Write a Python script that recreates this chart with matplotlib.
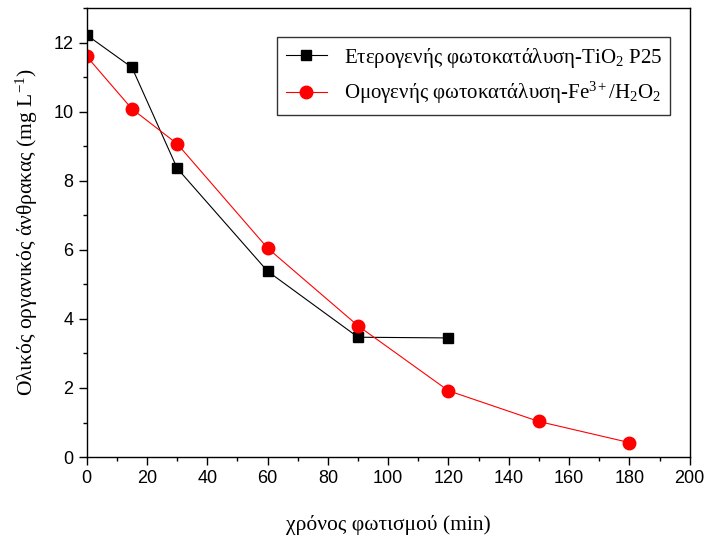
import matplotlib
matplotlib.use("Agg")
import matplotlib.pyplot as plt
from matplotlib.ticker import MultipleLocator

# data
t_tio2 = [0, 15, 30, 60, 90, 120]
toc_tio2 = [12.22, 11.28, 8.36, 5.38, 3.47, 3.45]
t_fenton = [0, 15, 30, 60, 90, 120, 150, 180]
toc_fenton = [11.6, 10.08, 9.07, 6.05, 3.8, 1.92, 1.03, 0.42]

lbl_tio2 = "Ετερογενής φωτοκατάλυση-TiO$_2$ P25"
lbl_fenton = "Ομογενής φωτοκατάλυση-Fe$^{3+}$/H$_2$O$_2$"

plt.rcParams['font.family'] = ['Liberation Sans', 'DejaVu Sans']
plt.rcParams['mathtext.fontset'] = 'custom'
plt.rcParams['mathtext.rm'] = 'Liberation Serif'
plt.rcParams['mathtext.it'] = 'Liberation Serif:italic'
plt.rcParams['mathtext.default'] = 'regular'

fig = plt.figure(figsize=(7.11, 5.39), dpi=100)
ax = fig.add_axes([0.122, 0.152, 0.848, 0.833])

ax.plot(t_tio2, toc_tio2, '-s', color='black', lw=0.8, ms=7.5, label=lbl_tio2)
ax.plot(t_fenton, toc_fenton, '-o', color='red', lw=0.8, ms=9, label=lbl_fenton)

ax.set_xlim(0, 200)
ax.set_ylim(0, 13)
ax.xaxis.set_major_locator(MultipleLocator(20))
ax.xaxis.set_minor_locator(MultipleLocator(10))
ax.yaxis.set_major_locator(MultipleLocator(2))
ax.yaxis.set_minor_locator(MultipleLocator(1))
ax.tick_params(which='both', direction='out', top=False, right=False,
               labelsize=13, width=1)
ax.tick_params(which='major', length=6)
ax.tick_params(which='minor', length=3)
for s in ax.spines.values():
    s.set_linewidth(1)

ax.set_xlabel("χρόνος φωτισμού (min)", family='Liberation Serif',
              fontsize=15.5, labelpad=20)
ax.set_ylabel("Ολικός οργανικός άνθρακας (mg L$^{-1}$)",
              family='Liberation Serif', fontsize=15.5, labelpad=10)

leg = ax.legend(loc='upper right', bbox_to_anchor=(0.968, 0.935),
                borderaxespad=0,
                prop={'family': 'Liberation Serif', 'size': 15},
                frameon=True, fancybox=False, edgecolor='black',
                handlelength=2.0, borderpad=0.4, labelspacing=0.5)
leg.get_frame().set_linewidth(1)

fig.savefig("out.png", dpi=100)
